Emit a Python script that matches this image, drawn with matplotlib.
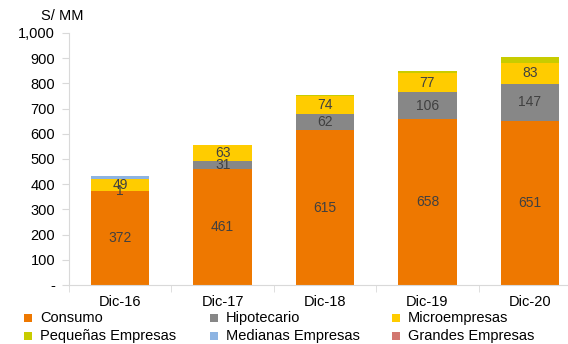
import numpy as np
import matplotlib.pyplot as plt
from matplotlib.patches import Rectangle

plt.rcParams['font.family'] = ['Liberation Sans', 'DejaVu Sans']

years = ['Dic-16', 'Dic-17', 'Dic-18', 'Dic-19', 'Dic-20']
consumo = [372, 461, 615, 658, 651]
hipotecario = [1, 31, 62, 106, 147]
micro = [49, 63, 74, 77, 83]
pequenas = [0, 2, 4, 8, 22]
medianas = [12, 0, 0, 0, 0]
grandes = [0, 0, 0, 0, 0]

names = ['Consumo', 'Hipotecario', 'Microempresas', 'Pequeñas Empresas',
         'Medianas Empresas', 'Grandes Empresas']
colors = ['#EE7800', '#878787', '#FFCC00', '#C8CC00', '#8DB4E2', '#D2776F']
series = [consumo, hipotecario, micro, pequenas, medianas, grandes]
labeled = [True, True, True, False, False, False]

W, H = 568, 344
fig = plt.figure(figsize=(W / 100, H / 100), dpi=100)
ax = fig.add_axes([69/W, 1-285/H, 512/W, 252/H])

fs = 10.5
x = np.arange(len(years))
bottom = np.zeros(len(years))
for vals, c, lab in zip(series, colors, labeled):
    vals = np.array(vals, dtype=float)
    ax.bar(x, vals, 0.57, bottom=bottom, color=c, edgecolor='none')
    if lab:
        for i in range(len(x)):
            if vals[i] > 0:
                ax.text(x[i], bottom[i] + vals[i] / 2, str(int(vals[i])),
                        ha='center', va='center', fontsize=10, color='#404040')
    bottom += vals

ax.set_xlim(-0.5, 4.5)
ax.set_ylim(0, 1000)
yt = np.arange(0, 1001, 100)
ax.set_yticks(yt)
ax.set_yticklabels(['-'] + ['{:,}'.format(v) for v in yt[1:]], fontsize=fs)
ax.set_xticks(x)
ax.set_xticklabels(years, fontsize=fs)
ax.set_xticks(np.arange(-0.5, 5, 1), minor=True)
ax.tick_params(axis='x', which='major', length=0, pad=7)
ax.tick_params(axis='x', which='minor', length=5, color='#D9D9D9', direction='out')
ax.tick_params(axis='y', length=5, color='#D9D9D9', pad=5)
for s in ['top', 'right']:
    ax.spines[s].set_visible(False)
ax.spines['left'].set_color('#D9D9D9')
ax.spines['bottom'].set_color('#D9D9D9')

fig.text(62/W, 1-16/H, 'S/ MM', fontsize=fs, ha='center', va='center')

# legend, drawn by hand: 3 columns x 2 rows
col_x = [24, 210, 392]
row_y = [318, 336]
for k, (name, c) in enumerate(zip(names, colors)):
    cx = col_x[k % 3]
    cy = row_y[k // 3]
    fig.add_artist(Rectangle((cx / W, 1 - (cy + 4) / H), 8 / W, 8 / H,
                             transform=fig.transFigure, facecolor=c,
                             edgecolor='none'))
    fig.text((cx + 16) / W, 1 - cy / H, name, fontsize=fs,
             ha='left', va='center')

fig.savefig('out.png', dpi=100)
